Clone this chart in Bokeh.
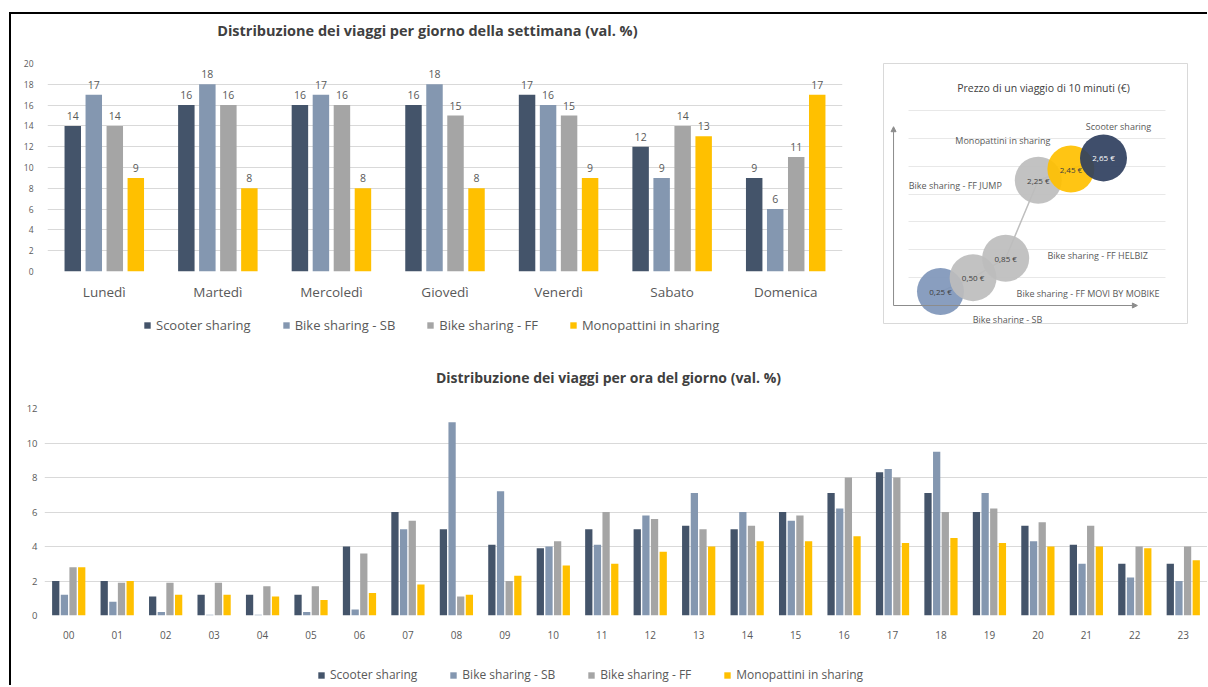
from bokeh.plotting import figure
from bokeh.models import (ColumnDataSource, Range1d, FactorRange, Legend, LegendItem,
                          Arrow, NormalHead, FixedTicker, Label)
from bokeh.transform import dodge
from bokeh.layouts import row, column
from bokeh.embed import file_html
from bokeh.resources import INLINE
from bokeh.core.properties import value

FONT = "Open Sans"
TXT = "#595959"
TITLE_C = "#404040"
GRID = "#D9D9D9"

# ---------------- data ----------------
series_names = ["Scooter sharing", "Bike sharing - SB", "Bike sharing - FF", "Monopattini in sharing"]

days = ["Lunedì", "Martedì", "Mercoledì", "Giovedì", "Venerdì", "Sabato", "Domenica"]
scooter_day = [14, 16, 16, 16, 17, 12, 9]
bike_sb_day = [17, 18, 17, 18, 16, 9, 6]
bike_ff_day = [14, 16, 16, 15, 15, 14, 11]
mono_day = [9, 8, 8, 8, 9, 13, 17]

hours = ["00", "01", "02", "03", "04", "05", "06", "07", "08", "09", "10", "11",
         "12", "13", "14", "15", "16", "17", "18", "19", "20", "21", "22", "23"]
scooter_hour = [2.0, 2.0, 1.1, 1.2, 1.2, 1.2, 4.0, 6.0, 5.0, 4.1, 3.9, 5.0,
                5.0, 5.2, 5.0, 6.0, 7.1, 8.3, 7.1, 6.0, 5.2, 4.1, 3.0, 3.0]
bike_sb_hour = [1.2, 0.8, 0.2, 0.05, 0.05, 0.2, 0.35, 5.0, 11.2, 7.2, 4.0, 4.1,
                5.8, 7.1, 6.0, 5.5, 6.2, 8.5, 9.5, 7.1, 4.3, 3.0, 2.2, 2.0]
bike_ff_hour = [2.8, 1.9, 1.9, 1.9, 1.7, 1.7, 3.6, 5.5, 1.1, 2.0, 4.3, 6.0,
                5.6, 5.0, 5.2, 5.8, 8.0, 8.0, 6.0, 6.2, 5.4, 5.2, 4.0, 4.0]
mono_hour = [2.8, 2.0, 1.2, 1.2, 1.1, 0.9, 1.3, 1.8, 1.2, 2.3, 2.9, 3.0,
             3.7, 4.0, 4.3, 4.3, 4.6, 4.2, 4.5, 4.2, 4.0, 4.0, 3.9, 3.2]

bubble_modes = ["Bike sharing - SB", "Bike sharing - FF MOVI BY MOBIKE", "Bike sharing - FF HELBIZ",
                "Bike sharing - FF JUMP", "Monopattini in sharing", "Scooter sharing"]
bubble_rank = [1, 2, 3, 4, 5, 6]
bubble_price = [0.25, 0.50, 0.85, 2.25, 2.45, 2.65]
bubble_price_text = ["0,25 €", "0,50 €", "0,85 €", "2,25 €", "2,45 €", "2,65 €"]

# ---------------- styles ----------------
series_colors = ["#44546A", "#8497B0", "#A5A5A5", "#FFC000"]
bubble_colors = ["#7F96BA", "#BDBDBD", "#BDBDBD", "#BDBDBD", "#FFC000", "#2F3F5E"]
bubble_text_colors = ["#404040", "#404040", "#404040", "#404040", "#404040", "#FFFFFF"]
bubble_label_dx = [67, 115, 92, -83, -68, 15]
bubble_label_dy = [28, 16, -3, 5, -29, -31]


def base_style(p):
    p.outline_line_color = None
    p.background_fill_color = "white"
    p.border_fill_color = "white"
    p.xgrid.grid_line_color = None
    p.ygrid.grid_line_color = GRID
    p.axis.axis_line_color = None
    p.axis.major_tick_line_color = None
    p.axis.minor_tick_line_color = None
    p.axis.major_tick_out = 0
    p.axis.major_tick_in = 0
    p.axis.major_label_text_color = TXT
    p.axis.major_label_text_font = FONT


def strip(width, height):
    s = figure(width=width, height=height, x_range=Range1d(0, width), y_range=Range1d(0, height),
               output_backend="svg", toolbar_location=None, min_border=0)
    s.axis.visible = False
    s.grid.visible = False
    s.outline_line_color = None
    s.background_fill_color = "white"
    s.border_fill_color = "white"
    return s


def title_strip(width, height, text, cx, cy, size):
    s = strip(width, height)
    s.add_layout(Label(x=cx, y=cy, text=text, text_align="center", text_baseline="middle",
                       text_font=FONT, text_font_size=size, text_font_style="bold",
                       text_color=TITLE_C))
    return s


def legend_strip(width, height, loc, size, spacing):
    s = strip(width, height)
    # swatch-only renderers: zero-height bars, they only feed the legend glyphs
    rs = [s.vbar(x=[0], top=[0], bottom=[0], width=1, fill_color=c, line_color=None)
          for c in series_colors]
    items = [LegendItem(label=n, renderers=[r]) for n, r in zip(series_names, rs)]
    s.add_layout(Legend(items=items, orientation="horizontal", location=loc,
                        label_text_font=FONT, label_text_font_size=size, label_text_color=TXT,
                        glyph_width=8, glyph_height=8, label_height=14, label_standoff=5,
                        spacing=spacing, padding=0, margin=0, border_line_color=None,
                        background_fill_alpha=0))
    return s


# ---------------- weekly chart ----------------
day_src = ColumnDataSource(dict(
    day=days, s0=scooter_day, s1=bike_sb_day, s2=bike_ff_day, s3=mono_day,
    t0=[str(v) for v in scooter_day], t1=[str(v) for v in bike_sb_day],
    t2=[str(v) for v in bike_ff_day], t3=[str(v) for v in mono_day]))

tw = title_strip(858, 35, "Distribuzione dei viaggi per giorno della settimana (val. %)", 410, 19, "14.5px")

pw = figure(width=858, height=263, x_range=FactorRange(*days), y_range=Range1d(0, 20),
            output_backend="svg", toolbar_location=None,
            min_border_left=36, min_border_right=27, min_border_top=14, min_border_bottom=41)
base_style(pw)
pw.yaxis.ticker = FixedTicker(ticks=list(range(0, 21, 2)))
pw.yaxis.major_label_text_font_size = "8.5px"
pw.yaxis.major_label_standoff = 14
pw.xaxis.major_label_text_font_size = "13.5px"
pw.xaxis.major_label_standoff = 11

day_offsets = [-0.2775, -0.0925, 0.0925, 0.2775]
for i, (off, col) in enumerate(zip(day_offsets, series_colors)):
    pw.vbar(x=dodge("day", off, range=pw.x_range), top="s%d" % i, width=0.145,
            source=day_src, fill_color=col, line_color=None)
    pw.text(x=dodge("day", off, range=pw.x_range), y="s%d" % i, text="t%d" % i, source=day_src,
            text_align="center", text_baseline="bottom", y_offset=-6,
            text_font=value(FONT), text_font_size="10.5px", text_color=TXT)

lw = legend_strip(858, 27, (96, 5), "13px", 31)

# ---------------- bubble chart ----------------
b_src = ColumnDataSource(dict(rank=bubble_rank, price=bubble_price, mode=bubble_modes,
                              ptxt=bubble_price_text, color=bubble_colors,
                              tcolor=bubble_text_colors, dx=bubble_label_dx, dy=bubble_label_dy))
pb = figure(width=338, height=325, x_range=Range1d(-0.748, 8.577), y_range=Range1d(-0.323, 4.345),
            output_backend="svg", toolbar_location=None,
            min_border_left=14, min_border_right=20, min_border_top=49, min_border_bottom=16)
base_style(pb)
pb.outline_line_color = "#D9D9D9"
pb.xaxis.visible = False
pb.yaxis.visible = False
pb.ygrid.ticker = FixedTicker(ticks=[0.5, 1.0, 1.5, 2.0, 2.5, 3.0, 3.5])
pb.ygrid.grid_line_color = "#E8E8E8"
if "cross_bounds" in pb.ygrid[0].properties():
    pb.ygrid.cross_bounds = (0.02, 7.9)
pb.add_layout(Label(x=4.16, y=3.9, text="Prezzo di un viaggio di 10 minuti (€)",
                    text_align="center", text_baseline="middle", text_font=FONT,
                    text_font_size="10.5px", text_color=TITLE_C))
pb.add_layout(Arrow(end=NormalHead(size=5, fill_color="#8C8C8C", line_color="#8C8C8C"),
                    x_start=-0.44, y_start=0, x_end=-0.44, y_end=3.21,
                    line_color="#8C8C8C", line_width=1))
pb.add_layout(Arrow(end=NormalHead(size=5, fill_color="#8C8C8C", line_color="#8C8C8C"),
                    x_start=-0.44, y_start=0, x_end=7.04, y_end=0,
                    line_color="#8C8C8C", line_width=1))
pb.line(x="rank", y="price", source=b_src, line_color="#BFBFBF", line_width=1.5)
pb.scatter(x="rank", y="price", size=47, fill_color="color", fill_alpha=0.92,
           line_color=None, source=b_src)
pb.text(x="rank", y="price", text="ptxt", text_color="tcolor", source=b_src,
        text_align="center", text_baseline="middle", text_font=value(FONT), text_font_size="8px")
pb.text(x="rank", y="price", text="mode", x_offset="dx", y_offset="dy", source=b_src,
        text_align="center", text_baseline="middle", text_font=value(FONT),
        text_font_size="9px", text_color=TXT)

# ---------------- hourly chart ----------------
hour_src = ColumnDataSource(dict(hour=hours, s0=scooter_hour, s1=bike_sb_hour,
                                 s2=bike_ff_hour, s3=mono_hour))

th = title_strip(1196, 53, "Distribuzione dei viaggi per ora del giorno (val. %)", 580, 15, "14px")

ph = figure(width=1196, height=271, x_range=FactorRange(*hours), y_range=Range1d(0, 12),
            output_backend="svg", toolbar_location=None,
            min_border_left=33, min_border_right=0, min_border_top=16, min_border_bottom=48)
base_style(ph)
ph.yaxis.ticker = FixedTicker(ticks=list(range(0, 13, 2)))
ph.yaxis.major_label_text_font_size = "9.5px"
ph.yaxis.major_label_standoff = 7
ph.xaxis.major_label_text_font_size = "10px"
ph.xaxis.major_label_standoff = 15

hour_offsets = [-0.268, -0.089, 0.089, 0.268]
for i, (off, col) in enumerate(zip(hour_offsets, series_colors)):
    ph.vbar(x=dodge("hour", off, range=ph.x_range), top="s%d" % i, width=0.15,
            source=hour_src, fill_color=col, line_color=None)

lh = legend_strip(1196, 22, (273, 2), "12px", 32)

layout = column(row(column(tw, pw, lw), pb), column(th, ph, lh), margin=(12, 0, 0, 9),
                styles={"border-left": "2px solid black", "border-top": "2px solid black",
                        "background-color": "white"})

open("out.html", "w").write(file_html(layout, INLINE))
